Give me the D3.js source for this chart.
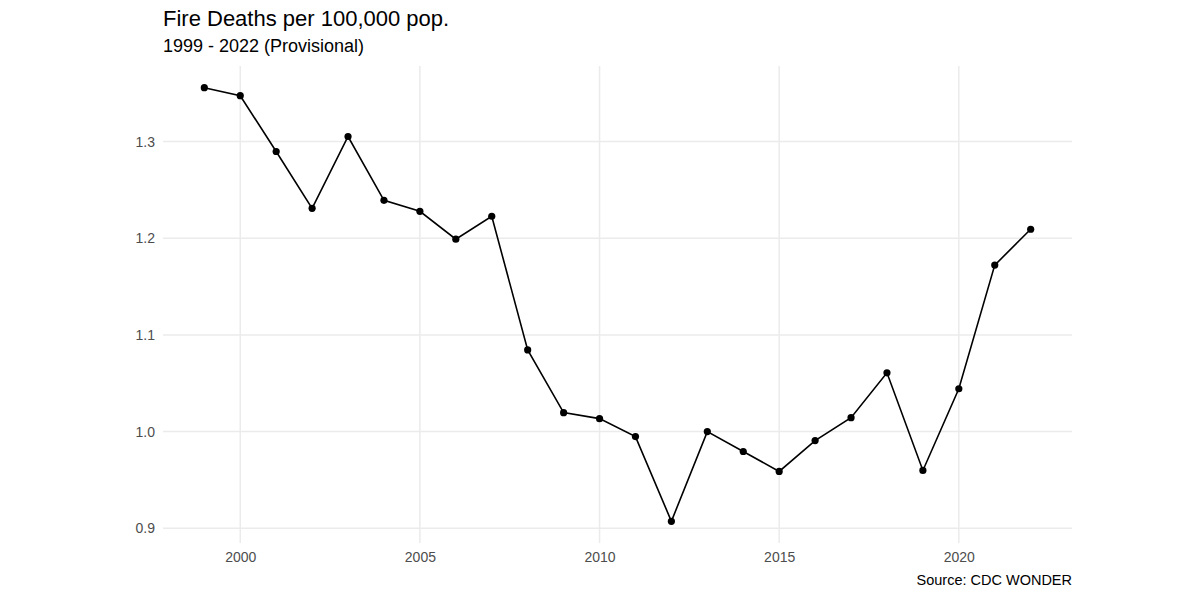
<!DOCTYPE html>
<html>
<head>
<meta charset="utf-8">
<script src="https://cdn.jsdelivr.net/npm/d3@7"></script>
<style>
  body { margin: 0; background: #fff; }
  text { font-family: "Liberation Sans", Arial, sans-serif; }
</style>
</head>
<body>
<svg id="chart"></svg>
<script>
const years = [1999, 2000, 2001, 2002, 2003, 2004, 2005, 2006, 2007, 2008, 2009, 2010,
  2011, 2012, 2013, 2014, 2015, 2016, 2017, 2018, 2019, 2020, 2021, 2022]
const rates = [1.3557, 1.3474, 1.2897, 1.2309, 1.3052, 1.2392, 1.2278, 1.1990, 1.2227, 1.0845,
  1.0196, 1.0134, 0.9948, 0.9072, 1.0000, 0.9794, 0.9588, 0.9907, 1.0144, 1.0608,
  0.9598, 1.0443, 1.1722, 1.2093]
const xTicks = [2000, 2005, 2010, 2015, 2020]
const yTicks = [0.9, 1.0, 1.1, 1.2, 1.3]

const title = "Fire Deaths per 100,000 pop."
const subtitle = "1999 - 2022 (Provisional)"
const caption = "Source: CDC WONDER"

let w = 1200
let h = 597
let m = {top: 66, right: 128, bottom: 54, left: 163}

let svg = d3.select("#chart").attr("width", w).attr("height", h)

// ggplot-style 5% expansion
function expand(ext) {
  let d = (ext[1] - ext[0]) * 0.05
  return [ext[0] - d, ext[1] + d]
}

let x = d3.scaleLinear().domain(expand(d3.extent(years))).range([m.left, w - m.right])
let y = d3.scaleLinear().domain(expand(d3.extent(rates))).range([h - m.bottom, m.top])

let grid = svg.append("g").attr("class", "grid")
grid.selectAll(".gx")
  .data(xTicks)
  .enter()
  .append("line")
  .attr("x1", d => x(d)).attr("x2", d => x(d))
  .attr("y1", m.top).attr("y2", h - m.bottom)
  .attr("stroke", "#ebebeb").attr("stroke-width", 1.5)
grid.selectAll(".gy")
  .data(yTicks)
  .enter()
  .append("line")
  .attr("x1", m.left).attr("x2", w - m.right)
  .attr("y1", d => y(d)).attr("y2", d => y(d))
  .attr("stroke", "#ebebeb").attr("stroke-width", 1.5)

let xAxis = svg.append("g")
  .attr("transform", `translate(0,${h - m.bottom})`)
  .call(d3.axisBottom(x).tickValues(xTicks).tickFormat(d3.format("d")).tickSize(0).tickPadding(9))
xAxis.select(".domain").remove()
xAxis.selectAll("text").attr("fill", "#4d4d4d").style("font-size", "14px")

let yAxis = svg.append("g")
  .attr("transform", `translate(${m.left},0)`)
  .call(d3.axisLeft(y).tickValues(yTicks).tickFormat(d3.format(".1f")).tickSize(0).tickPadding(8))
yAxis.select(".domain").remove()
yAxis.selectAll("text").attr("fill", "#4d4d4d").style("font-size", "14px")

let data = years.map((yr, i) => ({year: yr, rate: rates[i]}))

svg.append("path")
  .datum(data)
  .attr("fill", "none")
  .attr("stroke", "#000")
  .attr("stroke-width", 1.6)
  .attr("d", d3.line().x(d => x(d.year)).y(d => y(d.rate)))

svg.selectAll(".pt")
  .data(data)
  .enter()
  .append("circle")
  .attr("cx", d => x(d.year))
  .attr("cy", d => y(d.rate))
  .attr("r", 3.6)
  .attr("fill", "#000")

svg.append("text")
  .attr("x", m.left).attr("y", 26)
  .style("font-size", "22px").attr("fill", "#000")
  .text(title)
svg.append("text")
  .attr("x", m.left).attr("y", 52)
  .style("font-size", "18px").attr("fill", "#000")
  .text(subtitle)
svg.append("text")
  .attr("x", w - m.right).attr("y", 585)
  .attr("text-anchor", "end")
  .style("font-size", "14.5px").attr("fill", "#000")
  .text(caption)
</script>
</body>
</html>
